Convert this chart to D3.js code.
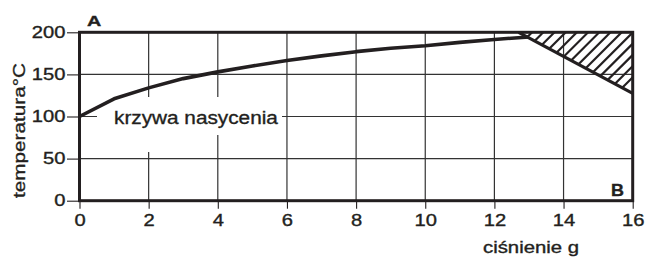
<!DOCTYPE html>
<html>
<head>
<meta charset="utf-8">
<script src="https://cdn.jsdelivr.net/npm/d3@7/dist/d3.min.js"></script>
<style>
  html, body { margin: 0; padding: 0; background: #fff; }
  svg { display: block; font-family: "Liberation Sans", Arial, Helvetica, sans-serif; }
  svg text { stroke: #231f20; stroke-width: 0.35px; }
</style>
</head>
<body>
<svg id="chart" width="646" height="257"></svg>
<script>
// ---- data ----
const pressure = [0, 1, 2, 3, 4, 5, 6, 7, 8, 9, 10, 11, 12, 13];
const temperature = [100, 121, 134, 145, 153, 160, 166.5, 172, 177, 181, 184, 188, 191.5, 194.5];
const hatchX = [12.7, 16, 16];
const hatchY = [200, 200, 127.5];
const xTicks = [0, 2, 4, 6, 8, 10, 12, 14, 16];
const yTicks = [0, 50, 100, 150, 200];
const curveLabel = "krzywa nasycenia";
const xTitle = "ciśnienie g";
const yTitle = "temperatura°C";
const cornerA = "A";
const cornerB = "B";

// ---- layout ----
const svg = d3.select("#chart");
const pL = 79.5, pR = 632.7, pT = 32.3, pB = 200.7;
const x = d3.scaleLinear().domain([0, 16]).range([pL, pR]);
const y = d3.scaleLinear().domain([0, 200]).range([pB, pT]);
const ink = "#231f20";

function stretchTo(sel, target) {
  sel.each(function () {
    const w = this.getComputedTextLength();
    const k = target / w;
    const ax = +this.getAttribute("x") || 0;
    const prev = this.getAttribute("transform") || "";
    this.setAttribute("transform", prev + ` translate(${ax},0) scale(${k},1) translate(${-ax},0)`);
  });
}
function stretchBy(sel, k) {
  sel.each(function () {
    const ax = +this.getAttribute("x") || 0;
    this.setAttribute("transform", `translate(${ax},0) scale(${k},1) translate(${-ax},0)`);
  });
}

// grid
const grid = svg.append("g").attr("stroke", "#333").attr("stroke-width", 1.2);
grid.selectAll("line.v").data(xTicks.slice(1, -1)).join("line").attr("class", "v")
  .attr("x1", d => x(d)).attr("x2", d => x(d)).attr("y1", pT).attr("y2", pB);
grid.selectAll("line.h").data(yTicks.slice(1, -1)).join("line").attr("class", "h")
  .attr("x1", pL).attr("x2", pR).attr("y1", d => y(d)).attr("y2", d => y(d));

// axes
const xAxis = svg.append("g").attr("transform", `translate(0,${pB})`)
  .call(d3.axisBottom(x).tickValues(xTicks).tickSize(8).tickPadding(6.3).tickFormat(d3.format("d")));
const yAxis = svg.append("g").attr("transform", `translate(${pL},0)`)
  .call(d3.axisLeft(y).tickValues(yTicks).tickSize(12.5).tickPadding(1.5).tickFormat(d3.format("d")));
[xAxis, yAxis].forEach(a => {
  a.select(".domain").remove();
  a.selectAll(".tick line").attr("stroke", ink).attr("stroke-width", 1.1);
  a.selectAll(".tick text").attr("font-size", 16).attr("fill", ink)
    .attr("font-family", "'Liberation Sans', Arial, sans-serif");
  stretchBy(a.selectAll(".tick text"), 1.26);
});

// label mask + label
svg.append("path").attr("fill", "#fff")
  .attr("d", "M97,97 H282 V135 H165 V152 H97 Z");
const lbl = svg.append("text").attr("x", 114).attr("y", 124.3)
  .attr("font-size", 18.5).attr("fill", ink).text(curveLabel);
stretchTo(lbl, 164);

// frame
svg.append("rect").attr("x", pL).attr("y", pT)
  .attr("width", pR - pL).attr("height", pB - pT)
  .attr("fill", "none").attr("stroke", ink).attr("stroke-width", 3);

// saturation curve
const pts = pressure.map((p, i) => [x(p), y(temperature[i])]);
svg.append("path").attr("d", d3.line()(pts))
  .attr("fill", "none").attr("stroke", ink).attr("stroke-width", 3.6)
  .attr("stroke-linejoin", "round");

// hatched area
const tri = hatchX.map((h, i) => [x(h), y(hatchY[i])]);
svg.append("clipPath").attr("id", "hclip").append("path")
  .attr("d", d3.line()(tri) + "Z");
const hg = svg.append("g").attr("clip-path", "url(#hclip)");
const hatchStarts = d3.range(-40, 140, 11.2).map(o => 538.5 + o);
hg.selectAll("line").data(hatchStarts).join("line")
  .attr("x1", d => d).attr("y1", pT)
  .attr("x2", d => d - 120).attr("y2", pT + 120)
  .attr("stroke", ink).attr("stroke-width", 2.2);
svg.append("line")
  .attr("x1", tri[0][0]).attr("y1", tri[0][1])
  .attr("x2", tri[2][0]).attr("y2", tri[2][1])
  .attr("stroke", ink).attr("stroke-width", 3.2);

// corner letters
const tA = svg.append("text").attr("x", 87).attr("y", 26).attr("font-weight", "bold")
  .attr("font-size", 15.5).attr("fill", ink).text(cornerA);
stretchTo(tA, 14.3);
const tB = svg.append("text").attr("x", 611).attr("y", 196).attr("font-weight", "bold")
  .attr("font-size", 16).attr("fill", ink).text(cornerB);
stretchTo(tB, 13);

// axis titles
const xt = svg.append("text").attr("x", 531).attr("y", 253).attr("text-anchor", "middle")
  .attr("font-size", 16).attr("fill", ink).text(xTitle);
stretchTo(xt, 96);
const yt = svg.append("text").attr("text-anchor", "middle")
  .attr("font-size", 16.5).attr("fill", ink).text(yTitle);
const yw = yt.node().getComputedTextLength();
yt.attr("transform", `translate(24.5,130.5) rotate(-90) scale(${135 / yw},1)`);
</script>
</body>
</html>
